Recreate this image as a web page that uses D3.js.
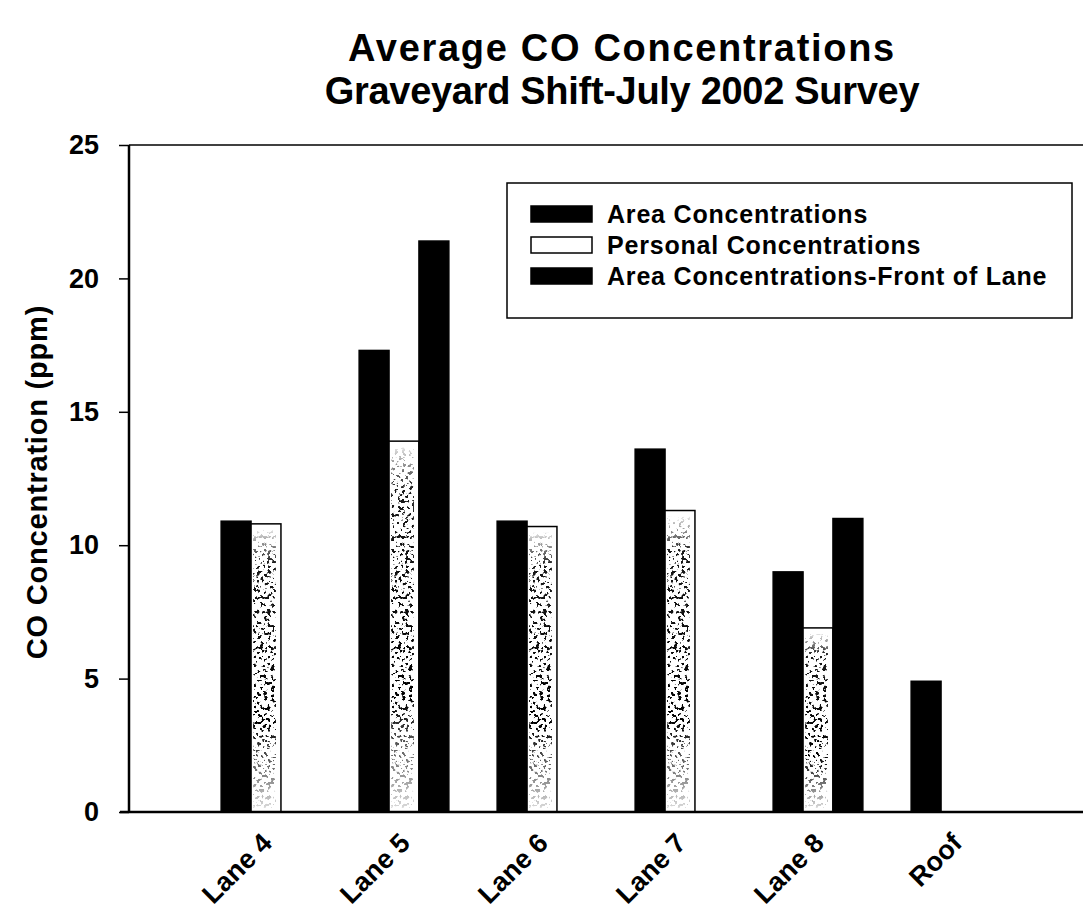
<!DOCTYPE html>
<html>
<head>
<meta charset="utf-8">
<script src="https://cdn.jsdelivr.net/npm/d3@7/dist/d3.min.js"></script>
<style>
  html, body { margin: 0; padding: 0; background: #fff; }
  svg { display: block; }
  text { font-family: "Liberation Sans", Arial, Helvetica, sans-serif; fill: #000; }
</style>
</head>
<body>
<svg id="chart" width="1083" height="912"></svg>
<script>
// Average CO concentrations by lane, graveyard shift survey
const lanes = ["Lane 4", "Lane 5", "Lane 6", "Lane 7", "Lane 8", "Roof"];
const areaConc = [10.9, 17.3, 10.9, 13.6, 9.0, 4.9];
const personalConc = [10.8, 13.9, 10.7, 11.3, 6.9, null];
const frontConc = [null, 21.4, null, null, 11.0, null];
const seriesNames = ["Area Concentrations", "Personal Concentrations", "Area Concentrations-Front of Lane"];
const yTicks = [0, 5, 10, 15, 20, 25];
const titleLines = ["Average CO Concentrations", "Graveyard Shift-July 2002 Survey"];
const yLabel = "CO Concentration (ppm)";

const svg = d3.select("#chart");
const plot = { left: 129, right: 1083, top: 145, bottom: 812 };

// stipple texture for the personal-sample bars
const defs = svg.append("defs");
const f = defs.append("filter").attr("id", "speckle")
  .attr("x", 0).attr("y", 0).attr("width", 1).attr("height", 1);
f.append("feTurbulence").attr("type", "fractalNoise").attr("baseFrequency", 0.28)
  .attr("numOctaves", 2).attr("seed", 11).attr("result", "noise");
f.append("feColorMatrix").attr("in", "noise").attr("type", "matrix")
  .attr("values", "0 0 0 0 0  0 0 0 0 0  0 0 0 0 0  18 0 0 0 -10.2").attr("result", "dots");
f.append("feComposite").attr("in", "dots").attr("in2", "SourceGraphic").attr("operator", "in");

const grad = defs.append("linearGradient").attr("id", "speckFade")
  .attr("x1", 0).attr("y1", 0).attr("x2", 0).attr("y2", 1);
grad.append("stop").attr("offset", "0").attr("stop-color", "#fff").attr("stop-opacity", 0.1);
grad.append("stop").attr("offset", "0.12").attr("stop-color", "#fff").attr("stop-opacity", 0.9);
grad.append("stop").attr("offset", "0.7").attr("stop-color", "#fff").attr("stop-opacity", 1);
grad.append("stop").attr("offset", "1").attr("stop-color", "#fff").attr("stop-opacity", 0.15);
defs.append("mask").attr("id", "speckMask")
  .attr("maskContentUnits", "objectBoundingBox")
  .append("rect").attr("x", 0).attr("y", 0).attr("width", 1).attr("height", 1)
  .attr("fill", "url(#speckFade)");

// scales
const y = d3.scaleLinear().domain([0, 25]).range([plot.bottom, plot.top]);
const x0 = d3.scaleBand().domain(lanes).range([197, 1025]).paddingInner(0.35).paddingOuter(0.175);
const x1 = d3.scaleBand().domain(seriesNames).range([0, x0.bandwidth()]);

// title
svg.append("g").selectAll("text").data(titleLines).join("text")
  .attr("x", 622).attr("y", (d, i) => 61 + i * 43)
  .attr("text-anchor", "middle")
  .attr("font-size", 38).attr("font-weight", "bold")
  .attr("letter-spacing", (d, i) => i === 0 ? 1.7 : -0.3)
  .text(d => d);

// frame top line
svg.append("line").attr("x1", plot.left).attr("x2", plot.right)
  .attr("y1", plot.top).attr("y2", plot.top)
  .attr("stroke", "#000").attr("stroke-width", 1.5);

// bars
const rows = lanes.map((lane, i) => ({
  lane,
  values: [
    { s: seriesNames[0], v: areaConc[i] },
    { s: seriesNames[1], v: personalConc[i] },
    { s: seriesNames[2], v: frontConc[i] }
  ].filter(d => d.v != null)
}));

const groups = svg.append("g").selectAll("g").data(rows).join("g")
  .attr("transform", d => `translate(${x0(d.lane)},0)`);

groups.selectAll("rect.bar").data(d => d.values).join("rect")
  .attr("class", "bar")
  .attr("x", d => x1(d.s))
  .attr("width", x1.bandwidth())
  .attr("y", d => y(d.v))
  .attr("height", d => y(0) - y(d.v))
  .attr("fill", d => d.s === seriesNames[1] ? "#fff" : "#000")
  .attr("stroke", "#000").attr("stroke-width", 1.5);

groups.selectAll("rect.speck").data(d => d.values.filter(v => v.s === seriesNames[1])).join("rect")
  .attr("class", "speck")
  .attr("x", d => x1(d.s) + 2)
  .attr("width", x1.bandwidth() - 7)
  .attr("y", d => y(d.v) + 6)
  .attr("height", d => y(0) - y(d.v) - 10)
  .attr("fill", "#000")
  .attr("filter", "url(#speckle)")
  .attr("mask", "url(#speckMask)");

// y axis
const yAxis = svg.append("g").attr("transform", `translate(${plot.left},0)`)
  .call(d3.axisLeft(y).tickValues(yTicks).tickSize(10).tickPadding(20));
yAxis.select(".domain").attr("stroke-width", 2.5).attr("d", `M0,${plot.top}V${plot.bottom}`);
yAxis.selectAll(".tick line").attr("stroke-width", 1.5);
yAxis.selectAll(".tick text").attr("font-size", 27).attr("font-weight", "bold")
  .attr("font-family", "Liberation Sans, Arial, sans-serif");

// x axis baseline and category labels
svg.append("line").attr("x1", plot.left - 9).attr("x2", plot.right)
  .attr("y1", plot.bottom).attr("y2", plot.bottom)
  .attr("stroke", "#000").attr("stroke-width", 2.5);

svg.append("g").selectAll("text").data(lanes).join("text")
  .attr("transform", d => `translate(${x0(d) + x0.bandwidth() / 2 + 1},${plot.bottom + 26}) rotate(-45)`)
  .attr("text-anchor", "end")
  .attr("font-size", 27).attr("font-weight", "bold")
  .attr("dy", "0.35em")
  .text(d => d);

// y axis title
svg.append("text")
  .attr("transform", `translate(47,${482}) rotate(-90)`)
  .attr("text-anchor", "middle")
  .attr("font-size", 29).attr("font-weight", "bold")
  .attr("letter-spacing", 0.8)
  .text(yLabel);

// legend
const lg = svg.append("g").attr("transform", "translate(507,183)");
lg.append("rect").attr("x", 0).attr("y", 0).attr("width", 565).attr("height", 135)
  .attr("fill", "#fff").attr("stroke", "#000").attr("stroke-width", 1.5);
const items = lg.selectAll("g").data(seriesNames).join("g")
  .attr("transform", (d, i) => `translate(0,${31 + i * 31})`);
items.append("rect").attr("x", 24).attr("y", -8).attr("width", 61).attr("height", 16)
  .attr("fill", (d, i) => i === 1 ? "#fff" : "#000")
  .attr("stroke", "#000").attr("stroke-width", 1.5);
items.append("text").attr("x", 100).attr("y", 0).attr("dy", "0.36em")
  .attr("font-size", 25).attr("font-weight", "bold")
  .attr("letter-spacing", 0.8)
  .text(d => d);
</script>
</body>
</html>
